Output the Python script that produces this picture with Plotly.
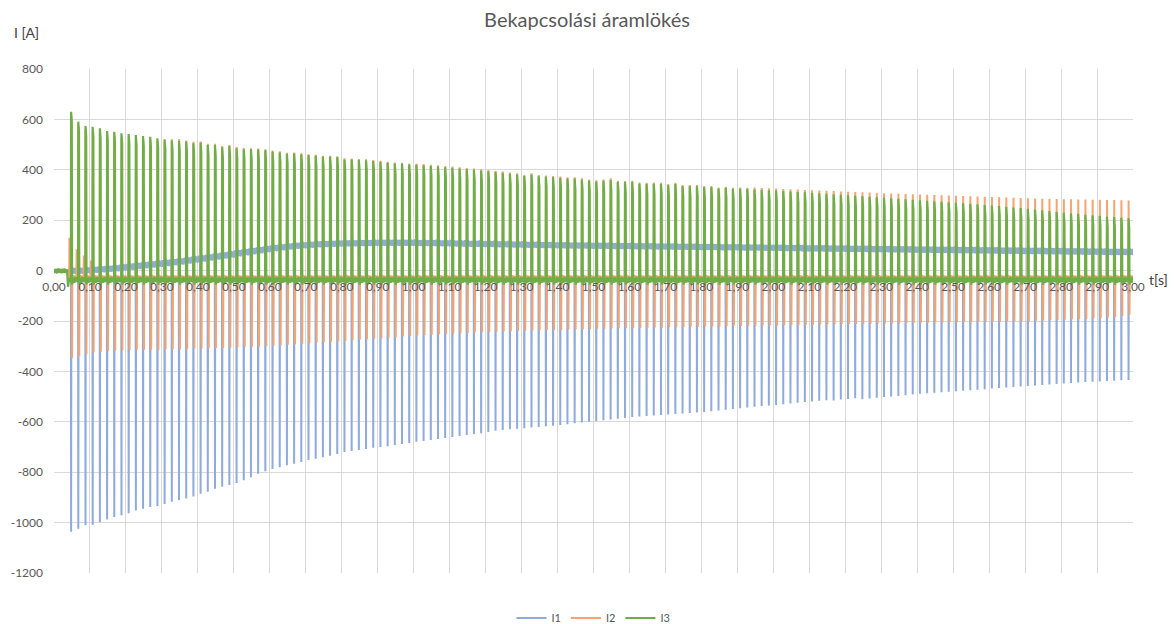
import plotly.graph_objects as go

# ---------------- data ----------------
# time of the first inrush peak and the mains period (50 Hz)
T0 = 0.047
PERIOD = 0.02

# samples before switch-on (t [s]) and the three currents [A]
PRE_T = [0.000, 0.003, 0.006, 0.009, 0.012, 0.015, 0.018, 0.021, 0.024, 0.027, 0.030, 0.033, 0.036, 0.039]
PRE_I1 = [4, -6, 7, -5, 6, -8, 5, -6, 8, -4, 6, -7, 3, -5]
PRE_I2 = [-3, 5, -6, 4, -5, 6, -4, 5, -7, 3, -5, 4, -6, 2]
PRE_I3 = [6, -9, 5, -11, 8, -7, 6, -10, 4, -8, 7, -9, 5, -64]

# I1: negative peak of every cycle [A]
I1_PEAK = [
    -1036, -1024, -1011, -1009, -999, -988, -978, -971, -963, -952,
    -945, -938, -934, -926, -917, -911, -904, -896, -886, -878,
    -866, -858, -851, -843, -832, -820, -806, -796, -787, -780,
    -772, -766, -760, -752, -747, -741, -735, -728, -720, -716,
    -712, -708, -703, -700, -697, -692, -688, -684, -679, -676,
    -672, -668, -664, -660, -656, -652, -648, -645, -640, -636,
    -633, -630, -628, -626, -623, -621, -618, -616, -613, -610,
    -606, -603, -600, -597, -594, -591, -588, -585, -581, -579,
    -577, -575, -573, -571, -569, -567, -565, -563, -561, -558,
    -555, -552, -549, -546, -543, -540, -537, -535, -533, -530,
    -527, -524, -521, -519, -516, -514, -515, -512, -510, -507,
    -511, -508, -505, -502, -500, -498, -495, -492, -489, -487,
    -485, -483, -481, -479, -477, -475, -473, -471, -468, -466,
    -464, -462, -460, -458, -456, -454, -452, -450, -448, -446,
    -444, -442, -441, -440, -438, -437, -435, -434,
]
# I1: slowly varying offset between the peaks [A]
I1_BASE = [
    0, 0, 2, 4, 6, 8, 10, 13, 16, 19,
    22, 25, 28, 31, 34, 37, 41, 45, 49, 53,
    57, 61, 65, 70, 74, 78, 82, 86, 90, 93,
    96, 99, 101, 103, 105, 106, 107, 108, 109, 109,
    110, 110, 111, 111, 111, 111, 111, 111, 110, 110,
    110, 109, 109, 108, 108, 107, 107, 106, 106, 105,
    105, 104, 104, 103, 103, 102, 102, 101, 101, 100,
    100, 100, 99, 99, 99, 98, 98, 98, 97, 97,
    97, 96, 96, 96, 95, 95, 95, 94, 94, 94,
    93, 93, 93, 92, 92, 92, 91, 91, 91, 90,
    90, 90, 89, 89, 89, 88, 88, 88, 87, 87,
    87, 86, 86, 86, 85, 85, 85, 84, 84, 84,
    83, 83, 83, 82, 82, 82, 81, 81, 81, 80,
    80, 80, 79, 79, 79, 78, 78, 78, 77, 77,
    77, 76, 76, 76, 75, 75, 75, 75,
]
# I2: positive peak of every cycle [A]
I2_PEAK_POS = [
    615, 575, 558, 555, 550, 540, 537, 531, 528, 524,
    520, 517, 512, 508, 521, 522, 516, 511, 512, 503,
    503, 494, 498, 490, 487, 486, 485, 482, 477, 474,
    468, 469, 466, 462, 460, 456, 456, 454, 446, 445,
    443, 442, 439, 436, 432, 429, 428, 425, 424, 423,
    420, 418, 415, 413, 410, 407, 405, 402, 399, 396,
    393, 389, 386, 379, 386, 379, 377, 375, 373, 370,
    370, 366, 362, 359, 362, 366, 357, 356, 357, 350,
    349, 350, 349, 344, 349, 340, 340, 340, 336, 336,
    330, 333, 329, 330, 329, 330, 328, 327, 326, 324,
    323, 322, 320, 319, 318, 317, 316, 314, 313, 312,
    311, 310, 308, 307, 306, 305, 304, 303, 302, 301,
    300, 299, 298, 297, 296, 295, 294, 293, 292, 291,
    290, 289, 288, 287, 286, 285, 284, 284, 283, 283,
    282, 282, 281, 281, 280, 280, 279, 278,
]
# I2: negative peak of every cycle [A]
I2_PEAK_NEG = [
    -348, -340, -332, -325, -322, -320, -318, -316, -315, -314,
    -314, -313, -314, -312, -311, -312, -310, -309, -310, -308,
    -307, -306, -306, -304, -303, -302, -301, -299, -298, -296,
    -294, -292, -290, -288, -286, -284, -282, -280, -278, -276,
    -274, -272, -270, -268, -266, -264, -262, -260, -258, -256,
    -255, -253, -252, -250, -249, -248, -246, -245, -244, -243,
    -242, -241, -240, -239, -238, -237, -236, -236, -235, -234,
    -233, -233, -232, -231, -231, -230, -229, -229, -228, -228,
    -227, -226, -226, -225, -225, -224, -223, -223, -222, -222,
    -221, -221, -220, -220, -219, -219, -218, -218, -217, -217,
    -216, -216, -215, -215, -214, -214, -213, -213, -212, -212,
    -211, -211, -210, -210, -209, -209, -208, -208, -207, -207,
    -206, -206, -205, -205, -204, -204, -203, -203, -202, -202,
    -201, -201, -200, -200, -199, -198, -197, -196, -195, -194,
    -193, -192, -190, -188, -186, -184, -180, -175,
]
# I2: small early bumps beside the main peaks [A]
I2_BUMP = [130, 85, 60, 40]
# I3: positive peak of every cycle [A]
I3_PEAK = [
    630, 591, 574, 571, 565, 554, 551, 545, 542, 538,
    534, 531, 525, 521, 516, 514, 512, 505, 508, 498,
    498, 489, 494, 485, 482, 482, 481, 478, 472, 469,
    463, 465, 461, 458, 456, 452, 452, 450, 441, 441,
    439, 438, 435, 432, 428, 425, 424, 421, 420, 418,
    415, 413, 410, 408, 405, 402, 400, 397, 394, 391,
    388, 384, 381, 375, 381, 374, 372, 370, 368, 365,
    365, 361, 357, 354, 357, 360, 352, 351, 352, 345,
    344, 345, 344, 339, 344, 335, 335, 335, 331, 331,
    325, 328, 324, 325, 324, 322, 321, 319, 318, 316,
    314, 312, 311, 309, 307, 305, 303, 301, 299, 297,
    295, 293, 291, 289, 287, 285, 283, 281, 279, 277,
    275, 273, 271, 269, 267, 265, 263, 260, 258, 256,
    253, 250, 248, 245, 242, 239, 236, 233, 230, 227,
    225, 222, 219, 217, 214, 212, 210, 208,
]

# x-axis tick labels
TICK_VALUES = [i / 10 for i in range(31)]
TICK_LABELS = [f"{v:.2f}".replace(".", ",") for v in TICK_VALUES]
Y_TICK_VALUES = list(range(-1200, 801, 200))
Y_TICK_LABELS = [str(v) for v in Y_TICK_VALUES]

# ---------------- build the sampled waveforms ----------------
def wave_i1():
    t, v = list(PRE_T), list(PRE_I1)
    for k, (pk, d) in enumerate(zip(I1_PEAK, I1_BASE)):
        c = T0 + k * PERIOD
        shape = [(-4, d + 10), (-1.5, d - 12), (0, d), (0.6, pk), (1.3, d + 4),
                 (4, d + 13), (7, d - 12), (10, d + 11), (13, d - 13), (15.5, d + 9)]
        for off, val in shape:
            t.append(c + off / 1000)
            v.append(val)
    return t, v


def wave_i2():
    t, v = list(PRE_T), list(PRE_I2)
    for k, (pp, pn) in enumerate(zip(I2_PEAK_POS, I2_PEAK_NEG)):
        c = T0 + k * PERIOD
        if k < len(I2_BUMP):
            shape = [(-4.6, -25), (-4, I2_BUMP[k]), (-3.4, -28)]
        else:
            shape = [(-4, -22)]
        shape += [(-1.5, -38), (0.2, -30), (0.8, pp), (1.4, -35), (2.6, -30),
                  (3.2, pn), (3.9, -32), (6.5, -18), (9.5, -40), (12.5, -20), (15, -38)]
        for off, val in shape:
            t.append(c + off / 1000)
            v.append(val)
    return t, v


def wave_i3():
    t, v = list(PRE_T), list(PRE_I3)
    for k, pk in enumerate(I3_PEAK):
        c = T0 + k * PERIOD
        shape = [(-4, -28), (-1.5, -45), (0, -35), (0.5, pk), (1.2, pk - 15),
                 (2.5, pk - 40), (3.3, -56), (5.5, -30), (8.5, -48), (11.5, -25), (14.5, -46)]
        for off, val in shape:
            t.append(c + off / 1000)
            v.append(val)
    return t, v


t1, v1 = wave_i1()
t2, v2 = wave_i2()
t3, v3 = wave_i3()

FONT = "Lato, 'Open Sans', sans-serif"
GRID = "#d9d9d9"
TXT = "#595959"

fig = go.Figure()
fig.add_trace(go.Scatter(x=t1, y=v1, mode="lines", name="I1",
                         line=dict(color="#8faadc", width=2), hoverinfo="skip"))
fig.add_trace(go.Scatter(x=t2, y=v2, mode="lines", name="I2",
                         line=dict(color="#f4a470", width=2), hoverinfo="skip"))
fig.add_trace(go.Scatter(x=t3, y=v3, mode="lines", name="I3",
                         line=dict(color="#70ad47", width=2.2), hoverinfo="skip"))

fig.update_layout(
    width=1174, height=624,
    margin=dict(l=54, r=41, t=69, b=51, autoexpand=False),
    paper_bgcolor="white", plot_bgcolor="white",
    font=dict(family=FONT, color=TXT, size=12),
    title=dict(text="Bekapcsolási áramlökés", x=0.5, xref="container", xanchor="center",
               y=1 - 20 / 624, yref="container", yanchor="middle",
               font=dict(size=20, color=TXT, family=FONT)),
    showlegend=True,
    legend=dict(orientation="h", x=0.5, xanchor="center", y=1 - 618 / 624,
                yref="container", yanchor="middle",
                font=dict(size=11, color=TXT), bgcolor="rgba(0,0,0,0)"),
    xaxis=dict(range=[0, 3.0], tickvals=TICK_VALUES, ticktext=TICK_LABELS,
               showgrid=True, gridcolor=GRID, gridwidth=1, zeroline=False, showline=False,
               anchor="free", position=0.6, ticks="", ticklabelstandoff=7,
               tickfont=dict(size=12, color=TXT)),
    yaxis=dict(range=[-1200, 800], tickvals=Y_TICK_VALUES, ticktext=Y_TICK_LABELS,
               showgrid=True, gridcolor=GRID, gridwidth=1, zeroline=False, showline=False,
               ticks="", ticklabelstandoff=10, tickfont=dict(size=12, color=TXT)),
    annotations=[
        dict(text="I [A]", xref="paper", yref="paper", x=-0.039, y=(573 - 32) / 504,
             xanchor="left", yanchor="middle", showarrow=False,
             font=dict(size=14, color="#404040", family=FONT)),
        dict(text="t[s]", xref="paper", yref="paper", x=1.013, y=0.6,
             xanchor="left", yanchor="middle", yshift=-9, showarrow=False,
             font=dict(size=14, color="#404040", family=FONT)),
    ],
)

fig.write_html("out.html", config={"displayModeBar": False},
               post_script="document.body.style.margin='0';")
